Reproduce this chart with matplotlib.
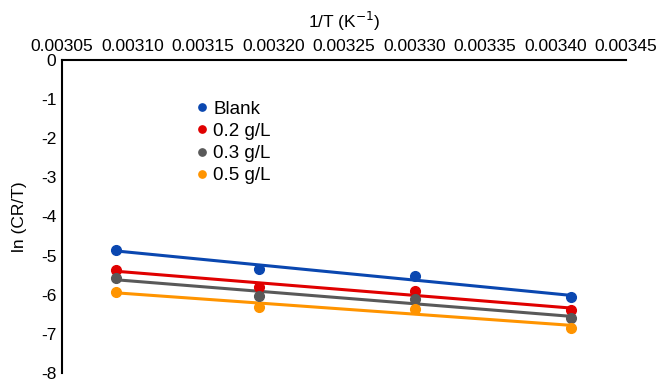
import numpy as np
import matplotlib
matplotlib.use("Agg")
import matplotlib.pyplot as plt

plt.rcParams["font.family"] = ["Liberation Sans", "DejaVu Sans"]

# data
inv_T = [0.003088, 0.003190, 0.003300, 0.003411]
series = ["Blank", "0.2 g/L", "0.3 g/L", "0.5 g/L"]
blank = [-4.85, -5.34, -5.51, -6.06]
c02 = [-5.36, -5.81, -5.90, -6.38]
c03 = [-5.58, -6.02, -6.12, -6.59]
c05 = [-5.93, -6.31, -6.36, -6.84]
colors = ["#0a47b0", "#e00000", "#595959", "#ff9400"]
xticks = [0.00305, 0.00310, 0.00315, 0.00320, 0.00325, 0.00330, 0.00335, 0.00340, 0.00345]
yticks = [0, -1, -2, -3, -4, -5, -6, -7, -8]

fig = plt.figure(figsize=(6.58, 3.81), dpi=100)
ax = fig.add_axes([62 / 658, 1 - 373 / 381, (626 - 62) / 658, (373 - 60) / 381])

x = np.array(inv_T)
for name, y, c in zip(series, [blank, c02, c03, c05], colors):
    y = np.array(y)
    ax.plot(x, y, "o", color=c, markersize=7, label=name, zorder=3)
    # linear trendline
    k, b = np.polyfit(x, y, 1)
    ax.plot(x, k * x + b, "-", color=c, linewidth=2.2, zorder=2)

ax.set_xlim(0.00305, 0.00345)
ax.set_ylim(-8, 0)
ax.xaxis.tick_top()
ax.xaxis.set_label_position("top")
ax.set_xticks(xticks)
ax.set_xticklabels([f"{t:.5f}" for t in xticks], fontsize=12.5)
ax.set_yticks(yticks)
ax.set_yticklabels([str(t) for t in yticks], fontsize=12.5)
ax.tick_params(length=0, pad=4)
ax.spines["right"].set_visible(False)
ax.spines["bottom"].set_visible(False)
ax.spines["left"].set_linewidth(1.5)
ax.spines["top"].set_linewidth(1.5)
ax.set_xlabel("1/T (K$^{-1}$)", fontsize=12.5, labelpad=8)
ax.set_ylabel("ln (CR/T)", fontsize=12.5, labelpad=10)

ax.legend(loc="upper left", bbox_to_anchor=(0.222, 0.9), frameon=False,
          fontsize=13.5, handlelength=0.6, handletextpad=0.3, labelspacing=0.27,
          borderpad=0, markerscale=0.75)

fig.savefig("out.png", dpi=100)
